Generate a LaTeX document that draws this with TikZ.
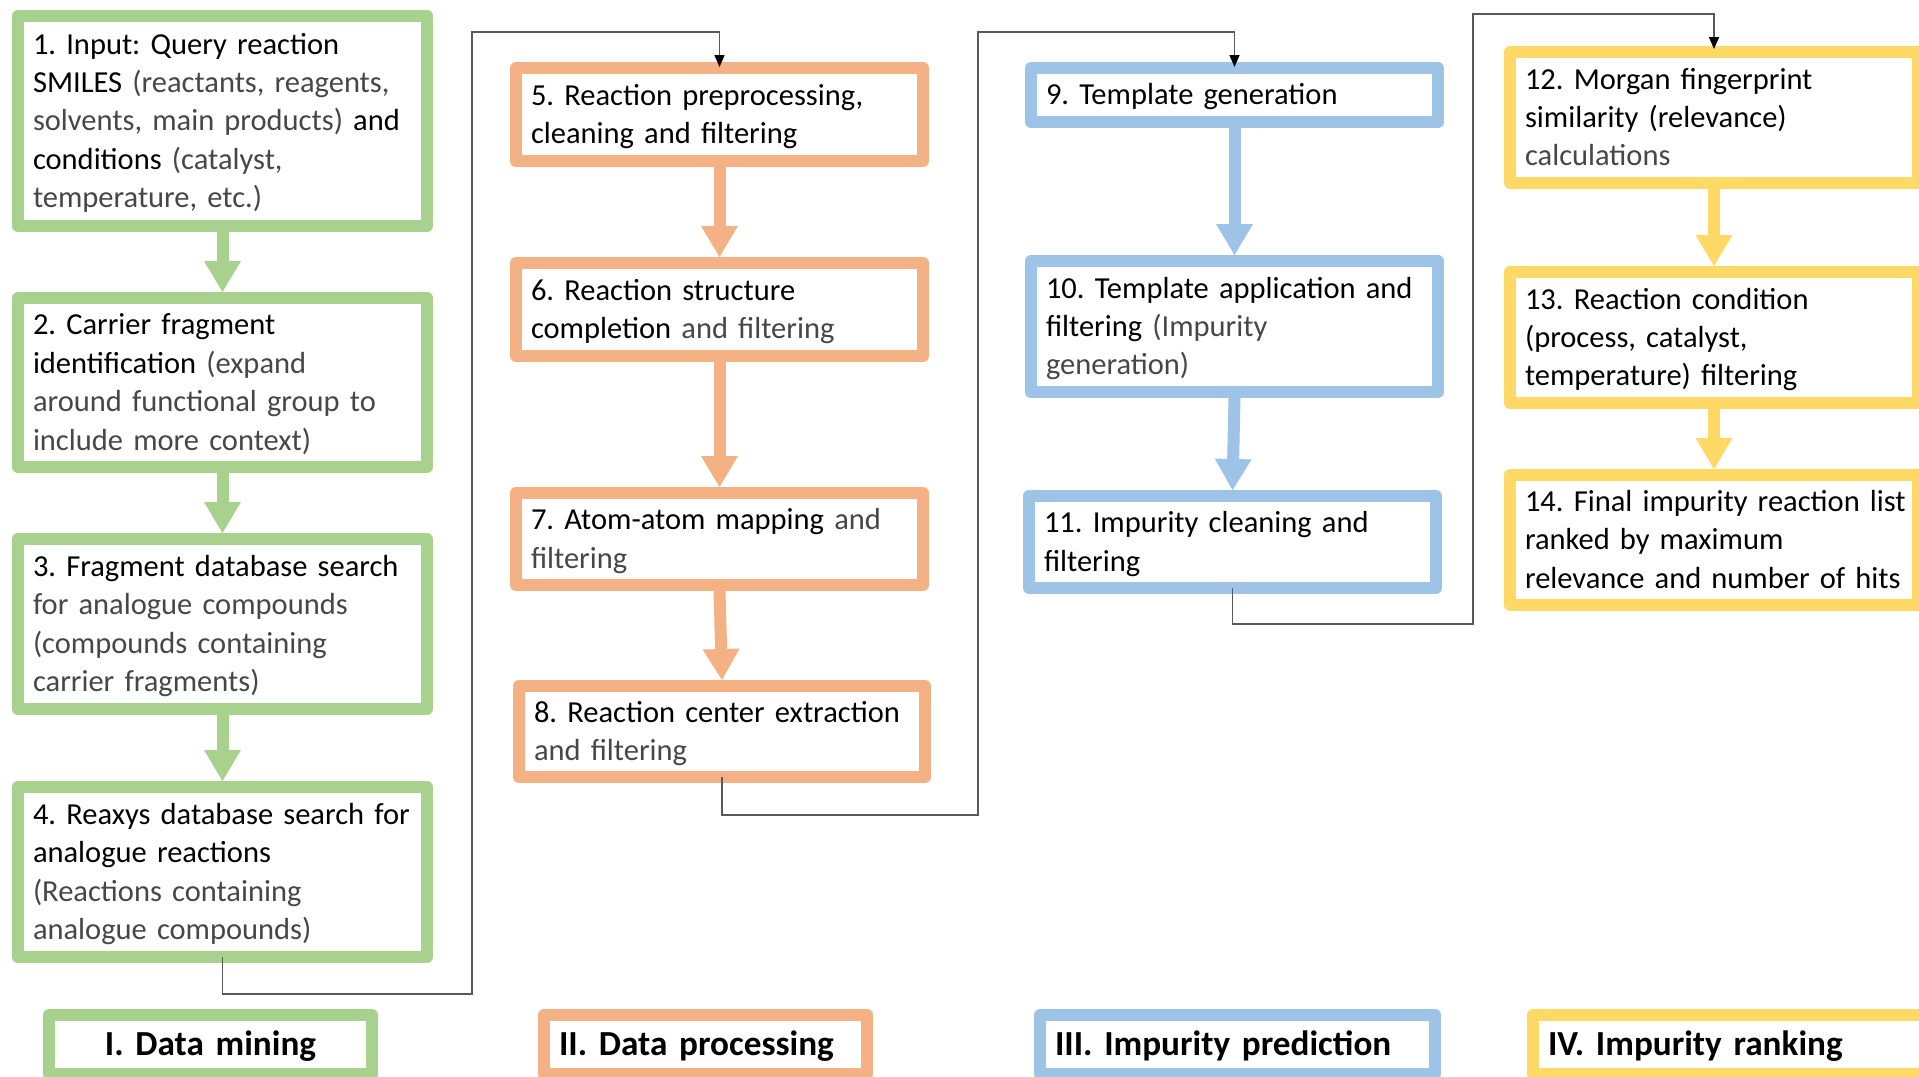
\documentclass[tikz,border=0pt]{standalone}
\usepackage{fontspec}
\setmainfont{Carlito}
\usetikzlibrary{arrows.meta}
\definecolor{cgreen}{HTML}{A9D18E}
\definecolor{corange}{HTML}{F4B183}
\definecolor{cblue}{HTML}{9DC3E6}
\definecolor{cyellow}{HTML}{FFD966}
\definecolor{clink}{HTML}{595959}
\newcommand\lgt[1]{{\color{black!72}#1}}
\newcommand\mystrut{\rule[-0.24\baselineskip]{0pt}{\baselineskip}}
\frenchspacing
\begin{document}
\begin{tikzpicture}[x=0.5pt,y=-0.5pt,
  box/.style={draw=#1, line width=6pt, line join=round, fill=white, inner xsep=7.5pt, inner ysep=0pt,
    outer sep=3pt, align=left, font=\fontsize{15.25pt}{19.2pt}\selectfont\frenchspacing, text=black},
  lbl/.style={draw=#1, line width=6pt, line join=round, fill=white, inner xsep=7.5pt, inner ysep=0pt,
    outer sep=3pt, align=left, font=\fontsize{17.6pt}{21.6pt}\selectfont\bfseries\frenchspacing, text=black,
    text height=12.5pt, text depth=2pt, minimum height=29.5pt},
  blk/.style={draw=#1, line width=6pt, -{Triangle[width=18.5pt,length=15.5pt,line width=0pt]}},
  link/.style={draw=clink, line width=0.75pt, -{Triangle[width=5pt,length=6pt,color=black]}}
]
\fill[white] (0,0) rectangle (1919,1077);
\useasboundingbox (0,0) rectangle (1919,1077);
\clip (0,0) rectangle (1919,1077);

% ---------- column I (green)
\node[box=cgreen, minimum width=204.5pt, minimum height=105pt, text width=189.5pt] (B1) at (222.5,121)
 {\mystrut\mbox{1. Input: Query reaction}\\
  \mbox{SMILES \lgt{(reactants, reagents,}}\\
  \mbox{\lgt{solvents, main products)} and}\\
  \mbox{conditions \lgt{(catalyst,}}\\
  \mbox{\lgt{temperature, etc.)}}\mystrut};
\node[box=cgreen, minimum width=204.5pt, minimum height=84.5pt, text width=189.5pt] (B2) at (222.5,382.5)
 {\mystrut\mbox{2. Carrier fragment}\\
  \mbox{identification \lgt{(expand}}\\
  \mbox{\lgt{around functional group to}}\\
  \mbox{\lgt{include more context)}}\mystrut};
\node[box=cgreen, minimum width=204.5pt, minimum height=85pt, text width=189.5pt] (B3) at (222.5,624)
 {\mystrut\mbox{3. Fragment database search}\\
  \mbox{\lgt{for analogue compounds}}\\
  \mbox{\lgt{(compounds containing}}\\
  \mbox{\lgt{carrier fragments)}}\mystrut};
\node[box=cgreen, minimum width=204.5pt, minimum height=85pt, text width=189.5pt] (B4) at (222.5,872)
 {\mystrut\mbox{4. Reaxys database search for}\\
  \mbox{analogue reactions}\\
  \mbox{\lgt{(Reactions containing}}\\
  \mbox{\lgt{analogue compounds)}}\mystrut};

% ---------- column II (orange)
\node[box=corange, minimum width=203.5pt, minimum height=46.5pt, text width=188.5pt] (B5) at (719.5,114.5)
 {\mystrut\mbox{5. Reaction preprocessing,}\\
  \mbox{cleaning and filtering}\mystrut};
\node[box=corange, minimum width=203.5pt, minimum height=46.5pt, text width=188.5pt] (B6) at (719.5,309.5)
 {\mystrut\mbox{6. Reaction structure}\\
  \mbox{completion \lgt{and filtering}}\mystrut};
\node[box=corange, minimum width=203.5pt, minimum height=46pt, text width=188.5pt] (B7) at (719.5,539)
 {\mystrut\mbox{7. Atom-atom mapping \lgt{and}}\\
  \mbox{\lgt{filtering}}\mystrut};
\node[box=corange, minimum width=203pt, minimum height=45.5pt, text width=188pt] (B8) at (722,731.5)
 {\mystrut\mbox{8. Reaction center extraction}\\
  \mbox{\lgt{and filtering}}\mystrut};

% ---------- column III (blue)
\node[box=cblue, minimum width=203.5pt, minimum height=27pt, text width=188.5pt] (B9) at (1234.5,95)
 {\mystrut\mbox{9. Template generation}\mystrut};
\node[box=cblue, minimum width=203.5pt, minimum height=65.5pt, text width=188.5pt] (B10) at (1234.5,326.5)
 {\mystrut\mbox{10. Template application and}\\
  \mbox{filtering \lgt{(Impurity}}\\
  \mbox{\lgt{generation)}}\mystrut};
\node[box=cblue, minimum width=203.5pt, minimum height=46pt, text width=188.5pt] (B11) at (1232.5,542)
 {\mystrut\mbox{11. Impurity cleaning and}\\
  \mbox{filtering}\mystrut};

% ---------- column IV (yellow)
\node[box=cyellow, minimum width=204pt, minimum height=65.5pt, text width=189pt] (B12) at (1714,117.5)
 {\mystrut\mbox{12. Morgan fingerprint}\\
  \mbox{similarity (relevance)}\\
  \mbox{\lgt{calculations}}\mystrut};
\node[box=cyellow, minimum width=204pt, minimum height=65.5pt, text width=189pt] (B13) at (1714,337.5)
 {\mystrut\mbox{13. Reaction condition}\\
  \mbox{(process, catalyst,}\\
  \mbox{temperature) filtering}\mystrut};
\node[box=cyellow, minimum width=204pt, minimum height=65pt, text width=189pt] (B14) at (1714,540)
 {\mystrut\mbox{14. Final impurity reaction list}\\
  \mbox{ranked by maximum}\\
  \mbox{relevance and number of hits}\mystrut};

% ---------- stage labels
\node[lbl=cgreen, minimum width=161.5pt, text width=146.5pt, align=center] (L1) at (210.5,1044.5) {I. Data mining};
\node[lbl=corange, minimum width=161.5pt, text width=146.5pt] (L2) at (705.5,1044.5) {II. Data processing};
\node[lbl=cblue, minimum width=197.5pt, text width=182.5pt] (L3) at (1237.5,1044.5) {III. Impurity prediction};
\node[lbl=cyellow, minimum width=198pt, text width=183pt] (L4) at (1731,1044.5) {IV. Impurity ranking};

% ---------- block arrows
\draw[blk=cgreen] (B1.south) -- (B2.north);
\draw[blk=cgreen] (B2.south) -- (B3.north);
\draw[blk=cgreen] (B3.south) -- (B4.north);
\draw[blk=corange] (B5.south) -- (B6.north);
\draw[blk=corange] (B6.south) -- (B7.north);
\draw[blk=corange] (B7.south) -- (B8.north);
\draw[blk=cblue] (B9.south) -- (B10.north);
\draw[blk=cblue] (B10.south) -- (B11.north);
\draw[blk=cyellow] (B12.south) -- (B13.north);
\draw[blk=cyellow] (B13.south) -- (B14.north);

% ---------- thin connectors between stages
\coordinate (k1) at (472,994);
\coordinate (k2) at (472,32);
\coordinate (k3) at (978,815);
\coordinate (k4) at (978,32);
\coordinate (k5) at (1473,624);
\coordinate (k6) at (1473,14);
\draw[link] ([yshift=3pt]B4.south) |- (k1) -- (k2) -| ([yshift=-2.5pt]B5.north);
\draw[link] ([yshift=3pt]B8.south) |- (k3) -- (k4) -| ([yshift=-2.5pt]B9.north);
\draw[link] ([yshift=3pt]B11.south) |- (k5) -- (k6) -| ([yshift=-1.5pt]B12.north);
\end{tikzpicture}
\end{document}
